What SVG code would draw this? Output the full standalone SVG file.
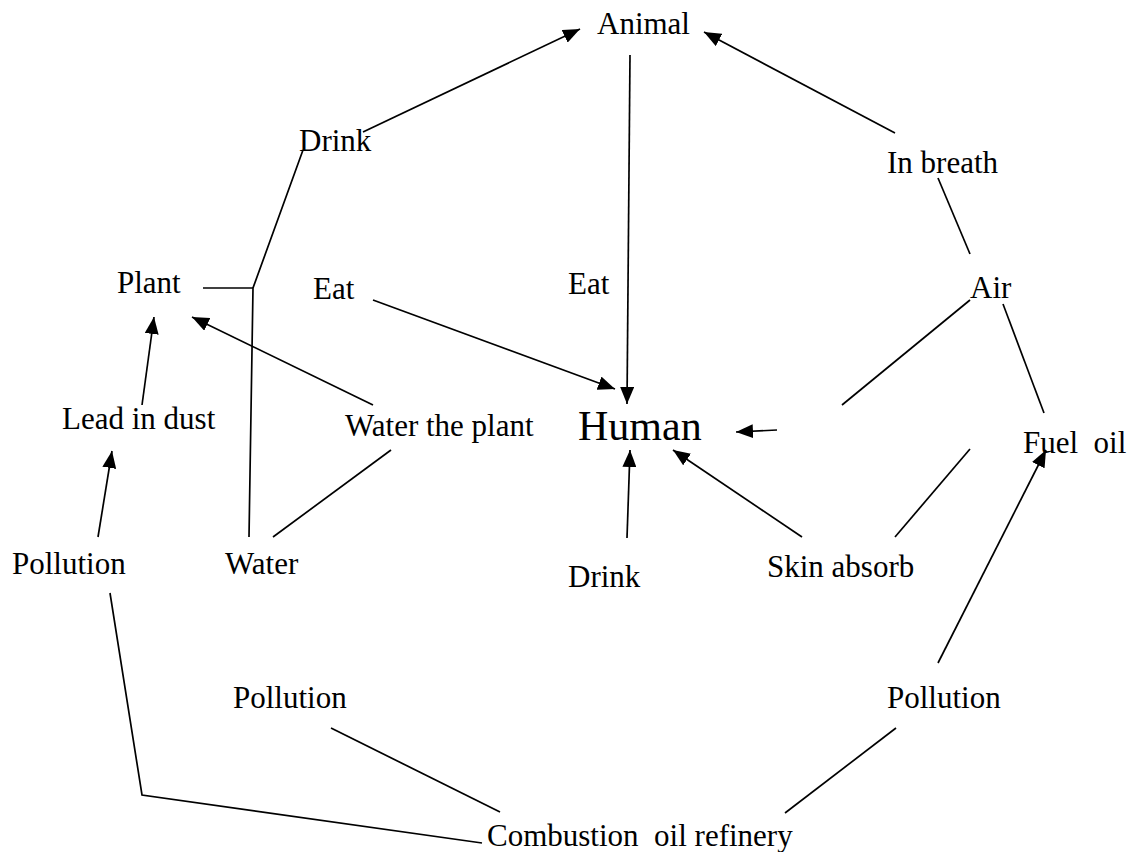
<svg xmlns="http://www.w3.org/2000/svg" width="1137" height="852" viewBox="0 0 1137 852">
<style>
text{font-family:"Liberation Serif","Times New Roman",serif;font-size:31px;fill:#000}
.big{font-size:42px}
line,polyline{stroke:#000;stroke-width:1.7;fill:none}
</style>
<defs>
<marker id="ah" markerUnits="userSpaceOnUse" markerWidth="18" markerHeight="14" refX="17" refY="7" orient="auto">
<path d="M0,0 L17,7 L0,14 z" fill="#000"/>
</marker>
</defs>
<rect width="1137" height="852" fill="#fff"/>
<g id="connectors">
<line x1="363" y1="132" x2="580" y2="29" marker-end="url(#ah)"/>
<line x1="630" y1="55" x2="627" y2="404" marker-end="url(#ah)"/>
<line x1="895" y1="133" x2="704" y2="32" marker-end="url(#ah)"/>
<polyline points="303,150 253,288 249,537"/>
<line x1="203" y1="288" x2="253" y2="288"/>
<line x1="373" y1="405" x2="192" y2="317" marker-end="url(#ah)"/>
<line x1="142" y1="405" x2="154" y2="317" marker-end="url(#ah)"/>
<line x1="98" y1="537" x2="112" y2="451" marker-end="url(#ah)"/>
<line x1="273" y1="537" x2="391" y2="450"/>
<line x1="373" y1="300" x2="615" y2="389" marker-end="url(#ah)"/>
<line x1="777" y1="430" x2="736" y2="432" marker-end="url(#ah)"/>
<line x1="627" y1="538" x2="630" y2="450" marker-end="url(#ah)"/>
<line x1="802" y1="537" x2="673" y2="450" marker-end="url(#ah)"/>
<line x1="938" y1="178" x2="970" y2="254"/>
<line x1="970" y1="300" x2="842" y2="405"/>
<line x1="1003" y1="304" x2="1044" y2="413"/>
<line x1="895" y1="537" x2="970" y2="449"/>
<line x1="938" y1="663" x2="1046" y2="450" marker-end="url(#ah)"/>
<polyline points="110,593 142,795 482,843"/>
<line x1="331" y1="728" x2="500" y2="812"/>
<line x1="896" y1="728" x2="785" y2="813"/>
</g>
<g id="node-animal"><text x="597" y="34">Animal</text></g>
<g id="node-drink-top"><text x="299" y="151">Drink</text></g>
<g id="node-inbreath"><text x="887" y="173">In breath</text></g>
<g id="node-plant"><text x="117" y="293">Plant</text></g>
<g id="node-eat-left"><text x="313" y="299">Eat</text></g>
<g id="node-eat-center"><text x="568" y="294">Eat</text></g>
<g id="node-air"><text x="970" y="298">Air</text></g>
<g id="node-lead"><text x="62" y="429">Lead in dust</text></g>
<g id="node-waterplant"><text x="345" y="436">Water the plant</text></g>
<g id="node-human"><text class="big" x="578" y="440">Human</text></g>
<g id="node-fueloil"><text x="1023" y="453" xml:space="preserve">Fuel  oil</text></g>
<g id="node-pollution-left"><text x="12" y="574">Pollution</text></g>
<g id="node-water"><text x="225" y="574">Water</text></g>
<g id="node-drink-bottom"><text x="568" y="587">Drink</text></g>
<g id="node-skin"><text x="767" y="577">Skin absorb</text></g>
<g id="node-pollution-mid"><text x="233" y="708">Pollution</text></g>
<g id="node-pollution-right"><text x="887" y="708">Pollution</text></g>
<g id="node-combustion"><text x="487" y="846" xml:space="preserve">Combustion  oil refinery</text></g>
</svg>
